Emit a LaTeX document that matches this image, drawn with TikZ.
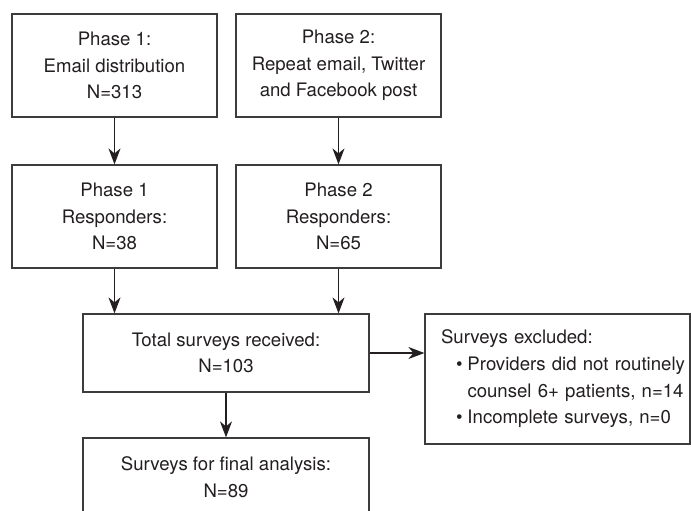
\documentclass[tikz,border=0pt]{standalone}
\usepackage{fontspec}
\setmainfont{TeX Gyre Heros}
\usetikzlibrary{arrows.meta}
\definecolor{txt}{HTML}{231F20}
\definecolor{boxgray}{HTML}{3C3C3C}
\begin{document}
\begin{tikzpicture}[x=1pt,y=-1pt,
  box/.style={draw=boxgray, line width=1.2pt, rectangle, inner sep=0pt, align=center,
    font=\fontsize{18.6}{26.7}\selectfont, text=txt},
  arr/.style={draw=txt, line width=1.2pt, -{Stealth[length=16pt,width=12pt,inset=5pt]}}]
\useasboundingbox (0,0) rectangle (691,511);
\clip (0,0) rectangle (691,511);
\node[box, minimum width=205pt, minimum height=103pt] (p1) at (114.5,65.5) {Phase 1:\\Email distribution\\N=313};
\node[box, minimum width=205pt, minimum height=103pt] (p2) at (338.5,65.5) {Phase 2:\\Repeat email, Twitter\\and Facebook post};
\node[box, minimum width=205pt, minimum height=103pt] (r1) at (114.5,216.5) {Phase 1\\Responders:\\N=38};
\node[box, minimum width=205pt, minimum height=103pt] (r2) at (338.5,216.5) {Phase 2\\Responders:\\N=65};
\node[box, minimum width=286pt, minimum height=78pt] (total) at (226,353) {Total surveys received:\\N=103};
\node[box, minimum width=286pt, minimum height=78pt] (final) at (226,477) {Surveys for final analysis:\\N=89};
\node[box, align=left, inner xsep=6.5pt, inner ysep=4pt, text width=252pt, minimum height=130pt] (excl) at (557.5,379) {\mbox{\hspace*{9.5pt}Surveys excluded:}\\
\mbox{\hspace*{24.5pt}\makebox[11.5pt][l]{\textbullet}Providers did not routinely}\\
\mbox{\hspace*{36pt}counsel 6+ patients, n=14}\\
\mbox{\hspace*{24.5pt}\makebox[11.5pt][l]{\textbullet}Incomplete surveys, n=0}};
\draw[arr] (p1) -- (r1);
\draw[arr] (p2) -- (r2);
\draw[arr] (r1.south) -- (r1.south |- total.north);
\draw[arr] (r2.south) -- (r2.south |- total.north);
\draw[arr] (total) -- (final);
\draw[arr] (total.east) -- (total.east -| excl.west);
\end{tikzpicture}
\end{document}
